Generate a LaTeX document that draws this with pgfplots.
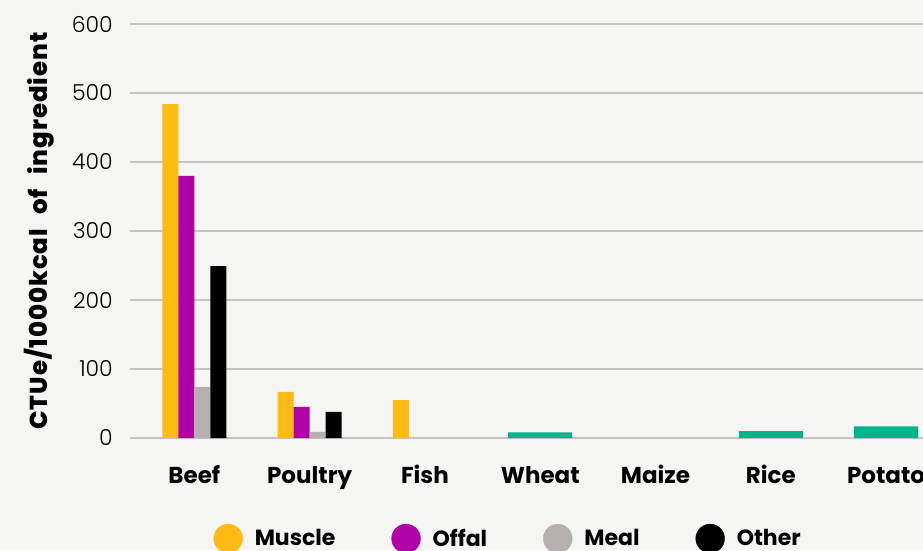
\documentclass[border=0pt]{standalone}
\usepackage{fontspec}
\setmainfont{Poppins}[UprightFont=* Light, BoldFont=* Bold]
\newfontfamily\heavy{Poppins}[UprightFont=* ExtraBold, LetterSpace=4]
\usepackage{pgfplots}
\pgfplotsset{compat=1.18}
\definecolor{bg}{HTML}{F5F5F3}
\definecolor{gridc}{HTML}{C6C4C3}
\definecolor{cMuscle}{HTML}{FDBB14}
\definecolor{cOffal}{HTML}{B000A8}
\definecolor{cMeal}{HTML}{B5B0AD}
\definecolor{cOther}{HTML}{000000}
\definecolor{cPlant}{HTML}{00B48A}
\begin{document}
\begin{tikzpicture}
\fill[bg] (-130pt,-112pt) rectangle (793pt,438pt);
\begin{axis}[
  at={(0,0)}, anchor=south west,
  scale only axis, width=793pt, height=414pt,
  xmin=-0.558, xmax=6.32, ymin=0, ymax=600,
  ytick={0,100,...,600},
  xtick={0,...,6},
  xticklabels={Beef,Poultry,Fish,Wheat,Maize,Rice,Potato},
  axis lines=left, axis line style={draw=none},
  major tick length=0pt,
  ymajorgrids, grid style={draw=gridc, line width=1.5pt},
  /pgf/number format/assume math mode=true,
  yticklabel style={anchor=east, inner sep=0pt, xshift=-17pt, font=\fontsize{22}{22}\selectfont},
  xticklabel style={anchor=base, inner sep=0pt, yshift=-45pt, font=\bfseries\fontsize{23}{23}\selectfont},
  ylabel={CTUe/1000kcal\hspace{0.35em} of\hspace{0.35em} ingredient},
  ylabel style={at={(axis description cs:0,0.5)}, anchor=center, yshift=91pt, inner sep=0pt, font=\heavy\fontsize{24.5}{24.5}\selectfont},
  legend columns=4,
  legend cell align=left,
  legend style={at={(axis description cs:0.1054,-0.2428)}, anchor=west, draw=none, fill=none, inner sep=0pt, outer sep=0pt,
    nodes={inner sep=0pt},
    font=\bfseries\fontsize{22}{22}\selectfont,
    /tikz/every even column/.append style={column sep=56pt},
    /tikz/every odd column/.append style={column sep=12pt}},
]
\addplot[ybar, bar width=16pt, bar shift=-24pt, fill=cMuscle, draw=none, forget plot] coordinates {(0,484) (1,67) (2,55)};
\addplot[ybar, bar width=16pt, bar shift=-8pt, fill=cOffal, draw=none, forget plot] coordinates {(0,380) (1,45)};
\addplot[ybar, bar width=16pt, bar shift=8pt, fill=cMeal, draw=none, forget plot] coordinates {(0,74) (1,9)};
\addplot[ybar, bar width=16pt, bar shift=24pt, fill=cOther, draw=none, forget plot] coordinates {(0,249) (1,38)};
\addplot[ybar, bar width=64pt, bar shift=0pt, fill=cPlant, draw=none, forget plot] coordinates {(3,8) (5,10) (6,17)};
\addlegendimage{legend image code/.code={\fill[cMuscle] (14.4pt,0pt) circle (14.4pt);}}
\addlegendentry{Muscle}
\addlegendimage{legend image code/.code={\fill[cOffal] (14.4pt,0pt) circle (14.4pt);}}
\addlegendentry{Offal}
\addlegendimage{legend image code/.code={\fill[cMeal] (14.4pt,0pt) circle (14.4pt);}}
\addlegendentry{Meal}
\addlegendimage{legend image code/.code={\fill[cOther] (14.4pt,0pt) circle (14.4pt);}}
\addlegendentry{Other}
\end{axis}
\pgfresetboundingbox
\path[use as bounding box] (-130pt,-112pt) rectangle (793pt,438pt);
\end{tikzpicture}
\end{document}
